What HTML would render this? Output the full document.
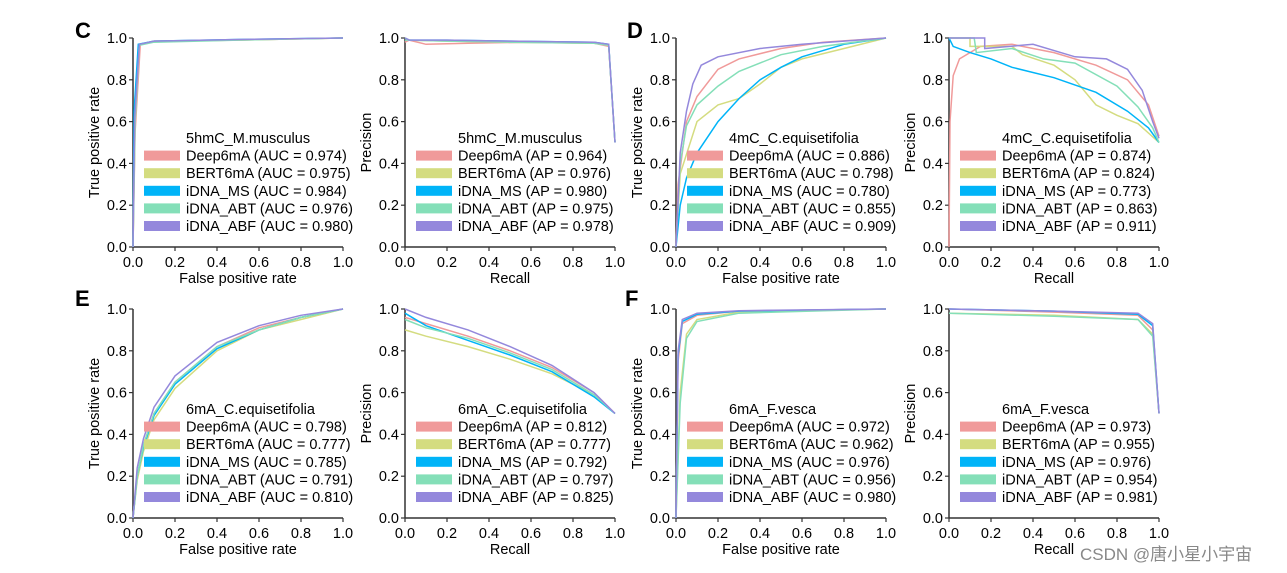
<!DOCTYPE html>
<html><head><meta charset="utf-8"><style>
html,body{margin:0;padding:0;background:#fff;}
svg{display:block;font-family:"Liberation Sans","Noto Sans CJK SC",sans-serif;}
</style></head><body>
<svg id="fig" width="1287" height="573" xmlns="http://www.w3.org/2000/svg">
<text x="75" y="38" font-size="22" font-weight="bold">C</text>
<text x="627" y="38" font-size="22" font-weight="bold">D</text>
<text x="75" y="306" font-size="22" font-weight="bold">E</text>
<text x="625" y="306" font-size="22" font-weight="bold">F</text>
<text x="1080" y="560" font-size="17" fill="#888">CSDN @唐小星小宇宙</text>
</svg>
<script>
const seriesNames = ["Deep6mA","BERT6mA","iDNA_MS","iDNA_ABT","iDNA_ABF"];
const seriesColors = ["#f09a9a","#d4dc80","#00b4f8","#84dfb8","#9488dc"];
const tickLabels = ["0.0","0.2","0.4","0.6","0.8","1.0"];
const tickValues = [0,0.2,0.4,0.6,0.8,1.0];

// panel C ROC
const cRocX = [[0,0.01,0.035,0.1,0.5,1],[0,0.01,0.03,0.1,0.5,1],[0,0.005,0.025,0.1,0.5,1],[0,0.01,0.03,0.1,0.5,1],[0,0.008,0.03,0.1,0.5,1]];
const cRocY = [[0,0.55,0.97,0.985,0.99,1],[0,0.6,0.97,0.985,0.99,1],[0,0.65,0.97,0.985,0.993,1],[0,0.6,0.965,0.98,0.99,1],[0,0.62,0.97,0.985,0.993,1]];
const cRocVal = ["0.974","0.975","0.984","0.976","0.980"];
// panel C PR
const cPrX = [[0,0.02,0.1,0.3,0.6,0.9,0.97,1],[0,0.02,0.2,0.5,0.9,0.97,1],[0,0.02,0.2,0.5,0.9,0.97,1],[0,0.02,0.2,0.5,0.9,0.97,1],[0,0.02,0.2,0.5,0.9,0.97,1]];
const cPrY = [[0.98,0.99,0.97,0.975,0.98,0.975,0.96,0.5],[1,0.99,0.985,0.98,0.975,0.965,0.5],[1,0.99,0.99,0.985,0.98,0.97,0.5],[0.99,0.99,0.985,0.98,0.975,0.965,0.5],[1,0.99,0.99,0.985,0.98,0.97,0.5]];
const cPrVal = ["0.964","0.976","0.980","0.975","0.978"];
// panel D ROC
const dRocX = [[0,0.01,0.05,0.1,0.2,0.3,0.5,0.7,1],[0,0.02,0.1,0.2,0.3,0.4,0.5,0.6,0.8,1],[0,0.02,0.05,0.1,0.2,0.3,0.4,0.5,0.6,0.8,1],[0,0.02,0.05,0.1,0.2,0.3,0.5,0.7,1],[0,0.02,0.05,0.08,0.12,0.2,0.4,0.6,1]];
const dRocY = [[0,0.3,0.6,0.72,0.85,0.9,0.95,0.98,1],[0,0.35,0.6,0.68,0.71,0.78,0.86,0.9,0.95,1],[0,0.2,0.33,0.45,0.6,0.71,0.8,0.86,0.91,0.97,1],[0,0.4,0.58,0.68,0.77,0.84,0.92,0.96,1],[0,0.45,0.65,0.78,0.87,0.91,0.95,0.97,1]];
const dRocVal = ["0.886","0.798","0.780","0.855","0.909"];
// panel D PR
const dPrX = [[0,0.005,0.02,0.05,0.15,0.3,0.5,0.7,0.85,0.95,1],[0,0.1,0.1,0.3,0.35,0.5,0.6,0.7,0.8,0.9,1],[0,0.02,0.1,0.2,0.3,0.5,0.7,0.85,0.95,1],[0,0.12,0.13,0.3,0.45,0.6,0.8,0.9,0.97,1],[0,0.17,0.17,0.4,0.6,0.75,0.85,0.92,0.97,1]];
const dPrY = [[0,0.6,0.82,0.9,0.96,0.97,0.93,0.87,0.8,0.68,0.53],[1,1,0.96,0.96,0.92,0.87,0.8,0.68,0.63,0.59,0.5],[1,0.96,0.93,0.9,0.86,0.81,0.74,0.65,0.57,0.5],[1,1,0.93,0.95,0.9,0.88,0.77,0.67,0.57,0.5],[1,1,0.95,0.97,0.91,0.9,0.85,0.75,0.6,0.52]];
const dPrVal = ["0.874","0.824","0.773","0.863","0.911"];
// panel E ROC
const eRocX = [[0,0.02,0.05,0.1,0.2,0.4,0.6,0.8,1],[0,0.02,0.05,0.1,0.2,0.4,0.6,0.8,1],[0,0.02,0.05,0.1,0.2,0.4,0.6,0.8,1],[0,0.02,0.05,0.1,0.2,0.4,0.6,0.8,1],[0,0.02,0.05,0.1,0.2,0.4,0.6,0.8,1]];
const eRocY = [[0,0.2,0.35,0.5,0.65,0.82,0.91,0.96,1],[0,0.18,0.32,0.47,0.62,0.8,0.9,0.95,1],[0,0.2,0.34,0.49,0.64,0.81,0.9,0.96,1],[0,0.2,0.35,0.5,0.65,0.82,0.9,0.96,1],[0,0.24,0.38,0.53,0.68,0.84,0.92,0.97,1]];
const eRocVal = ["0.798","0.777","0.785","0.791","0.810"];
// panel E PR
const ePrX = [[0,0.1,0.3,0.5,0.7,0.9,1],[0,0.1,0.3,0.5,0.7,0.9,1],[0,0.1,0.3,0.5,0.7,0.9,1],[0,0.1,0.3,0.5,0.7,0.9,1],[0,0.1,0.3,0.5,0.7,0.9,1]];
const ePrY = [[0.96,0.93,0.87,0.8,0.72,0.6,0.5],[0.9,0.87,0.82,0.76,0.69,0.59,0.5],[0.98,0.92,0.85,0.78,0.7,0.58,0.5],[0.95,0.91,0.86,0.79,0.71,0.59,0.5],[1,0.96,0.9,0.82,0.73,0.6,0.5]];
const ePrVal = ["0.812","0.777","0.792","0.797","0.825"];
// panel F ROC
const fRocX = [[0,0.01,0.03,0.1,0.3,1],[0,0.02,0.05,0.1,0.3,1],[0,0.01,0.03,0.1,0.3,1],[0,0.02,0.05,0.1,0.3,1],[0,0.01,0.03,0.1,0.3,1]];
const fRocY = [[0,0.75,0.93,0.97,0.99,1],[0,0.6,0.88,0.95,0.985,1],[0,0.78,0.94,0.975,0.99,1],[0,0.55,0.86,0.94,0.98,1],[0,0.8,0.95,0.98,0.992,1]];
const fRocVal = ["0.972","0.962","0.976","0.956","0.980"];
// panel F PR
const fPrX = [[0,0.5,0.9,0.97,1],[0,0.5,0.9,0.97,1],[0,0.5,0.9,0.97,1],[0,0.5,0.9,0.97,1],[0,0.5,0.9,0.97,1]];
const fPrY = [[1,0.985,0.97,0.9,0.5],[0.98,0.97,0.95,0.88,0.5],[1,0.99,0.975,0.92,0.5],[0.98,0.965,0.95,0.87,0.5],[1,0.99,0.98,0.93,0.5]];
const fPrVal = ["0.973","0.955","0.976","0.954","0.981"];

const NS = "http://www.w3.org/2000/svg";
const svg = document.getElementById("fig");
function mk(tag, attrs, parent){const e=document.createElementNS(NS,tag);for(const k in attrs)e.setAttribute(k,attrs[k]);(parent||svg).appendChild(e);return e;}

function panel(id, x0, y0, xs, ys, vals, kind, title){
  const W=210,H=209;
  const g=mk("g",{});
  
  
  const sx=v=>x0+v*W, sy=v=>y0+H-v*H;
  const ax="#333";
  mk("line",{x1:x0,y1:y0,x2:x0,y2:y0+H,stroke:ax,"stroke-width":1.5},g);
  mk("line",{x1:x0,y1:y0+H,x2:x0+W,y2:y0+H,stroke:ax,"stroke-width":1.5},g);
  tickValues.forEach((t,i)=>{
    mk("line",{x1:sx(t),y1:y0+H,x2:sx(t),y2:y0+H+4,stroke:ax,"stroke-width":1.2},g);
    mk("line",{x1:x0-4,y1:sy(t),x2:x0,y2:sy(t),stroke:ax,"stroke-width":1.2},g);
    const tx=mk("text",{x:sx(t),y:y0+H+20,"font-size":14.5,"text-anchor":"middle"},g);tx.textContent=tickLabels[i];
    
    
    const ty=mk("text",{x:x0-6,y:sy(t)+5,"font-size":14.5,"text-anchor":"end"},g);ty.textContent=tickLabels[i];
    
    
  });
  const xl=mk("text",{x:x0+W/2,y:y0+H+36,"font-size":14.5,"text-anchor":"middle"},g);
  xl.textContent= kind==="roc"?"False positive rate":"Recall";
  
  
  const yx=x0-34, yy=y0+H/2;
  const yl=mk("text",{x:yx,y:yy,"font-size":14.5,"text-anchor":"middle",transform:`rotate(-90 ${yx} ${yy})`},g);
  yl.textContent= kind==="roc"?"True positive rate":"Precision";
  
  
  xs.forEach((xa,s)=>{
    const d=xa.map((v,i)=>(i?"L":"M")+sx(v).toFixed(1)+","+sy(ys[s][i]).toFixed(1)).join("");
    const p=mk("path",{d:d,fill:"none",stroke:seriesColors[s],"stroke-width":1.5},g);
    
    
  });
  const lx=x0+11, ly=y0+105;
  const tt=mk("text",{x:lx+42,y:ly,"font-size":14.5},g);tt.textContent=title;
  
  
  seriesNames.forEach((n,s)=>{
    const yy2=ly+17.6*(s+1);
    const r=mk("rect",{x:lx,y:yy2-10,width:36,height:10,fill:seriesColors[s]},g);
    
    
    const t=mk("text",{x:lx+42,y:yy2,"font-size":14.5},g);
    t.textContent=`${n} (${kind==="roc"?"AUC":"AP"} = ${vals[s]})`;
    
    
  });
}
panel("roc-c",133,38,cRocX,cRocY,cRocVal,"roc","5hmC_M.musculus");
panel("pr-c",405,38,cPrX,cPrY,cPrVal,"pr","5hmC_M.musculus");
panel("roc-d",676,38,dRocX,dRocY,dRocVal,"roc","4mC_C.equisetifolia");
panel("pr-d",949,38,dPrX,dPrY,dPrVal,"pr","4mC_C.equisetifolia");
panel("roc-e",133,309,eRocX,eRocY,eRocVal,"roc","6mA_C.equisetifolia");
panel("pr-e",405,309,ePrX,ePrY,ePrVal,"pr","6mA_C.equisetifolia");
panel("roc-f",676,309,fRocX,fRocY,fRocVal,"roc","6mA_F.vesca");
panel("pr-f",949,309,fPrX,fPrY,fPrVal,"pr","6mA_F.vesca");
</script>
</body></html>
